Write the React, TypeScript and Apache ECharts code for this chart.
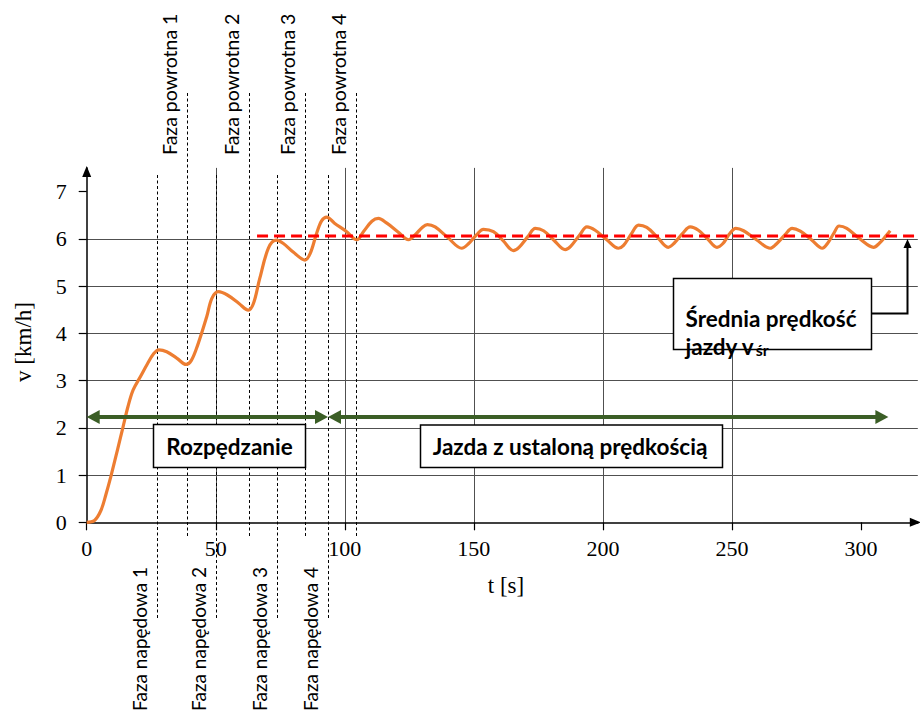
import React, { useEffect, useRef } from 'react';
import * as echarts from 'echarts';

// ---- data ----
const tTicks = [0, 50, 100, 150, 200, 250, 300];
const vTicks = [0, 1, 2, 3, 4, 5, 6, 7];
const X_MAX = 322;
const Y_MAX = 7.5;

const speedData: [number, number][] = [
  [0, 0], [3, 0.04], [5.5, 0.25], [7.5, 0.6], [9.5, 1.0], [12, 1.55], [14, 2.0], [16, 2.45],
  [18, 2.8], [21, 3.1], [23.5, 3.35], [26, 3.57], [28, 3.65], [31, 3.61], [35, 3.47],
  [38.5, 3.34], [40.5, 3.42], [43, 3.75], [46.5, 4.35], [48.5, 4.74], [51, 4.88], [54.5, 4.81],
  [59, 4.63], [62.6, 4.49], [64.6, 4.63], [67, 5.15], [70.4, 5.8], [73.4, 5.97], [76.2, 5.9],
  [80, 5.72], [84.6, 5.55], [86.6, 5.69], [89, 6.1], [91, 6.38], [93, 6.46], [96, 6.33],
  [100.5, 6.16], [104.7, 5.98], [107.2, 6.15], [110.5, 6.37], [113, 6.43], [116.3, 6.33],
  [120.5, 6.15], [124.7, 5.98], [127.2, 6.08], [130, 6.24], [132, 6.3], [135, 6.25],
  [140, 6.02], [145.3, 5.8], [148, 5.9], [151, 6.08], [153.7, 6.2], [157.6, 6.15],
  [161.5, 5.95], [165.3, 5.75], [167.5, 5.82], [171, 6.05], [173.8, 6.22], [177, 6.17],
  [181, 5.97], [185.4, 5.77], [187.5, 5.84], [191, 6.08], [193.8, 6.25], [197, 6.18],
  [201.5, 5.98], [206, 5.8], [208, 5.86], [211, 6.1], [213.8, 6.29], [217, 6.24],
  [221, 6.04], [225.3, 5.82], [227.5, 5.9], [231, 6.12], [233.8, 6.25], [237, 6.18],
  [240.5, 6.0], [244.2, 5.82], [246.5, 5.9], [249, 6.1], [251.5, 6.22], [254.5, 6.17],
  [259.5, 5.98], [264.8, 5.8], [267, 5.88], [270.5, 6.08], [273.3, 6.22], [276.5, 6.16],
  [281, 5.97], [285, 5.8], [287, 5.9], [289.5, 6.12], [291.5, 6.27], [294.5, 6.22],
  [299.5, 6.0], [304.9, 5.82], [307, 5.9], [309.5, 6.05], [311.3, 6.17],
];

const avgSpeed = 6.06;
const avgStart = 66;

const driveMarks = [27.1, 50, 73.8, 93.3];
const driveLabels = ['Faza napędowa 1', 'Faza napędowa 2', 'Faza napędowa 3', 'Faza napędowa 4'];
const returnMarks = [38.7, 62.7, 84.6, 104.2];
const returnLabels = ['Faza powrotna 1', 'Faza powrotna 2', 'Faza powrotna 3', 'Faza powrotna 4'];

const phaseSplit = 93.5;
const arrowLevel = 2.23;
const runEnd = 310.6;

const accelLabel = 'Rozpędzanie';
const steadyLabel = 'Jazda z ustaloną prędkością';
const avgLabel1 = 'Średnia prędkość';
const avgLabel2 = 'jazdy v';
const avgSub = 'śr';
const xName = 't [s]';
const yName = 'v [km/h]';

const SERIF = "'Liberation Serif', 'Times New Roman', serif";
const SANS = "Lato, 'Open Sans', sans-serif";
const GREEN = '#3B5E26';

function measure(text: string, font: string): number {
  const c = document.createElement('canvas').getContext('2d');
  if (!c) return text.length * 10;
  c.font = font;
  return c.measureText(text).width;
}

export default function App() {
  const ref = useRef<HTMLDivElement>(null);

  useEffect(() => {
    if (!ref.current) return;
    const chart = echarts.init(ref.current, null, { renderer: 'svg' });

    const gridLeft = 86.7;
    const gridTop = 167.9;
    const gridW = 831.1;
    const gridH = 354.4;

    chart.setOption({
      animation: false,
      backgroundColor: '#ffffff',
      grid: { left: gridLeft, top: gridTop, width: gridW, height: gridH, containLabel: false },
      xAxis: {
        type: 'value',
        min: 0,
        max: X_MAX,
        interval: 50,
        axisLine: { show: true, onZero: false, lineStyle: { color: '#000', width: 1.5 } },
        axisTick: { show: true, length: 8, customValues: tTicks, lineStyle: { color: '#000', width: 1.2 } },
        axisLabel: {
          customValues: tTicks,
          margin: 15,
          color: '#000',
          fontFamily: SERIF,
          fontSize: 22,
        },
        splitLine: { show: true, showMinLine: false, showMaxLine: false, lineStyle: { color: '#505050', width: 1 } },
      },
      yAxis: {
        type: 'value',
        min: 0,
        max: Y_MAX,
        interval: 1,
        axisLine: { show: true, onZero: false, lineStyle: { color: '#000', width: 1.5 } },
        axisTick: { show: true, length: 8, customValues: vTicks, lineStyle: { color: '#000', width: 1.2 } },
        axisLabel: {
          customValues: vTicks,
          margin: 20,
          color: '#000',
          fontFamily: SERIF,
          fontSize: 22,
        },
        splitLine: { show: true, showMinLine: false, showMaxLine: false, lineStyle: { color: '#505050', width: 1 } },
      },
      series: [
        {
          type: 'line',
          data: speedData,
          smooth: 0.35,
          showSymbol: false,
          symbol: 'none',
          lineStyle: { color: '#ED7D31', width: 3.2 },
          z: 3,
        },
        {
          type: 'line',
          data: [[avgStart, avgSpeed], [X_MAX, avgSpeed]],
          showSymbol: false,
          symbol: 'none',
          lineStyle: { color: '#FF0000', width: 3, type: [11, 6] },
          z: 4,
        },
      ],
    });

    const px = (t: number, v: number) => chart.convertToPixel({ gridIndex: 0 } as any, [t, v]) as number[];
    const g: any[] = [];

    // phase lines + labels
    driveMarks.forEach((t, i) => {
      const x = Math.round(px(t, 0)[0]) + 0.5;
      g.push({
        type: 'line', z: 1, silent: true,
        shape: { x1: x, y1: 175, x2: x, y2: 618 },
        style: { stroke: '#000', lineWidth: 1, lineDash: [3, 2.5] },
      });
      g.push({
        type: 'text', z: 5, x: x - 18, y: 567, rotation: Math.PI / 2,
        style: { text: driveLabels[i], fill: '#000', font: `19px ${SANS}`, align: 'right', verticalAlign: 'middle' },
      });
    });
    returnMarks.forEach((t, i) => {
      const x = Math.round(px(t, 0)[0]) + 0.5;
      g.push({
        type: 'line', z: 1, silent: true,
        shape: { x1: x, y1: 93, x2: x, y2: 536 },
        style: { stroke: '#000', lineWidth: 1, lineDash: [3, 2.5] },
      });
      g.push({
        type: 'text', z: 5, x: x - 18, y: 155, rotation: Math.PI / 2,
        style: { text: returnLabels[i], fill: '#000', font: `19.5px ${SANS}`, align: 'left', verticalAlign: 'middle' },
      });
    });

    // axis arrows
    const o = px(0, 0);
    const xEnd = px(X_MAX, 0);
    const yEnd = px(0, Y_MAX);
    g.push({ type: 'polygon', z: 6, shape: { points: [[xEnd[0] + 3, o[1]], [xEnd[0] - 8, o[1] - 4.5], [xEnd[0] - 8, o[1] + 4.5]] }, style: { fill: '#000' } });
    g.push({ type: 'polygon', z: 6, shape: { points: [[o[0], yEnd[1] - 2], [o[0] - 4.5, yEnd[1] + 9], [o[0] + 4.5, yEnd[1] + 9]] }, style: { fill: '#000' } });

    // axis names
    g.push({ type: 'text', z: 6, x: 506, y: 585, style: { text: xName, fill: '#000', font: `23px ${SERIF}`, align: 'center', verticalAlign: 'middle' } });
    g.push({ type: 'text', z: 6, x: 23, y: 342, rotation: Math.PI / 2, style: { text: yName, fill: '#000', font: `23px ${SERIF}`, align: 'center', verticalAlign: 'middle' } });

    // green double arrows
    const a0 = px(0, arrowLevel);
    const a1 = px(phaseSplit, arrowLevel);
    const a2 = px(runEnd, arrowLevel);
    const ah = 13, aw = 7;
    g.push({ type: 'line', z: 8, shape: { x1: a0[0] + ah - 1, y1: a0[1], x2: a1[0] - ah + 1, y2: a1[1] }, style: { stroke: GREEN, lineWidth: 4 } });
    g.push({ type: 'polygon', z: 8, shape: { points: [[a0[0], a0[1]], [a0[0] + ah, a0[1] - aw], [a0[0] + ah, a0[1] + aw]] }, style: { fill: GREEN } });
    g.push({ type: 'polygon', z: 8, shape: { points: [[a1[0], a1[1]], [a1[0] - ah, a1[1] - aw], [a1[0] - ah, a1[1] + aw]] }, style: { fill: GREEN } });
    g.push({ type: 'line', z: 8, shape: { x1: a1[0] + ah - 1, y1: a1[1], x2: a2[0] - ah + 1, y2: a2[1] }, style: { stroke: GREEN, lineWidth: 4 } });
    g.push({ type: 'polygon', z: 8, shape: { points: [[a1[0], a1[1]], [a1[0] + ah, a1[1] - aw], [a1[0] + ah, a1[1] + aw]] }, style: { fill: GREEN } });
    g.push({ type: 'polygon', z: 8, shape: { points: [[a2[0], a2[1]], [a2[0] - ah, a2[1] - aw], [a2[0] - ah, a2[1] + aw]] }, style: { fill: GREEN } });

    // boxes
    const BOLD = `bold 22.5px ${SANS}`;
    const box = (x: number, y: number, w: number, h: number) => ({
      type: 'rect', z: 9, shape: { x, y, width: w, height: h }, style: { fill: '#fff', stroke: '#000', lineWidth: 1.5 },
    });
    g.push(box(153.5, 424.5, 152, 43));
    g.push({ type: 'text', z: 10, x: 229.5, y: 446.5, style: { text: accelLabel, fill: '#000', font: BOLD, align: 'center', verticalAlign: 'middle' } });
    g.push(box(420.5, 425, 302, 42.5));
    g.push({ type: 'text', z: 10, x: 570, y: 446.5, style: { text: steadyLabel, fill: '#000', font: BOLD, align: 'center', verticalAlign: 'middle' } });
    g.push(box(673.5, 278.5, 198, 71));
    g.push({ type: 'text', z: 10, x: 685.5, y: 306.5, style: { text: avgLabel1, fill: '#000', font: BOLD, align: 'left', verticalAlign: 'alphabetic' } });
    g.push({ type: 'text', z: 10, x: 685.5, y: 335, style: { text: avgLabel2, fill: '#000', font: BOLD, align: 'left', verticalAlign: 'alphabetic' } });
    const w2 = measure(avgLabel2, `bold 22.5px Lato`);
    g.push({ type: 'text', z: 10, x: 685.5 + w2 + 1, y: 341, style: { text: avgSub, fill: '#000', font: `bold 16px ${SANS}`, align: 'left', verticalAlign: 'alphabetic' } });

    // leader arrow to average line
    const avgPt = px(0, avgSpeed);
    g.push({ type: 'polyline', z: 9, shape: { points: [[871.5, 313.5], [907.5, 313.5], [907.5, avgPt[1] + 11]] }, style: { stroke: '#000', lineWidth: 2, fill: null } });
    g.push({ type: 'polygon', z: 9, shape: { points: [[907.5, avgPt[1] + 3], [903.5, avgPt[1] + 12], [911.5, avgPt[1] + 12]] }, style: { fill: '#000' } });

    chart.setOption({ graphic: { elements: g } });

    return () => chart.dispose();
  }, []);

  return (
    <div
      ref={ref}
      style={{ position: 'fixed', left: 0, top: 0, width: 920, height: 715, background: '#fff' }}
    />
  );
}
